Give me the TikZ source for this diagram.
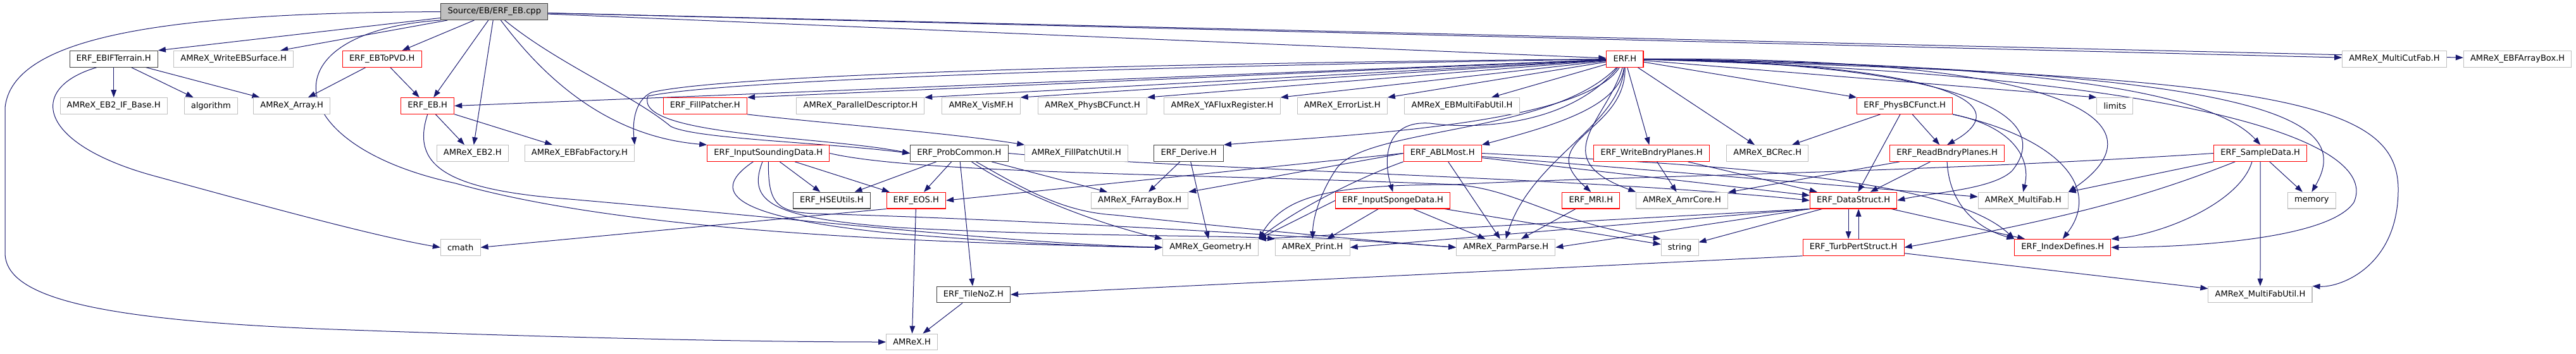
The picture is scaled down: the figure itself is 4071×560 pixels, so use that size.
\documentclass[tikz,border=0pt]{standalone}
\usepackage{fontspec}
\setmainfont{DejaVu Sans}
\usetikzlibrary{arrows.meta, backgrounds}
\definecolor{edgeblue}{HTML}{191970}
\definecolor{extgray}{HTML}{BFBFBF}
\definecolor{docgray}{HTML}{404040}
\definecolor{truncred}{HTML}{FF0000}

\begin{document}
\begin{tikzpicture}[
  x=0.75pt, y=-0.75pt,
  font=\fontsize{9.8}{11}\selectfont,
  % Node styles
  hdr/.style   = {rectangle, draw, line width=0.8pt, fill=white,
                  minimum height=19.3pt, inner xsep=8pt, inner ysep=1pt},
  src/.style   = {hdr, draw=docgray, fill=extgray},
  doc/.style   = {hdr, draw=docgray},
  trunc/.style = {hdr, draw=truncred},
  ext/.style   = {hdr, draw=extgray},
  % Arrow style
  inc/.style   = {-{Triangle[length=9pt,width=6.5pt]}, draw=edgeblue,
                  line width=0.75pt}
]

% =========================== ROOT ===========================
\node[src]   (root)     at (781.3,18.6)   {Source/EB/ERF\_EB.cpp};

% =========================== RANK 1 ===========================
\node[doc]   (ebif)     at (179.7,93.2)   {ERF\_EBIFTerrain.H};
\node[ext]   (wsurf)    at (369.2,93.2)   {AMReX\_WriteEBSurface.H};
\node[trunc] (topvd)    at (603.8,93.2)   {ERF\_EBToPVD.H};
\node[trunc] (erfh)     at (2567.9,93.2)  {ERF.H};
\node[ext]   (mcut)     at (3783.9,93.2)  {AMReX\_MultiCutFab.H};
\node[ext]   (ebfab)    at (3978.6,93.2)  {AMReX\_EBFArrayBox.H};

% =========================== RANK 2 ===========================
\node[ext]   (ifbase)   at (179.7,167.5)  {AMReX\_EB2\_IF\_Base.H};
\node[ext]   (algo)     at (333.3,167.5)  {algorithm};
\node[ext]   (arr)      at (461.2,167.5)  {AMReX\_Array.H};
\node[trunc] (ebh)      at (675.7,167.5)  {ERF\_EB.H};
\node[trunc] (fpatcher) at (1114.3,167.5) {ERF\_FillPatcher.H};
\node[ext]   (pdesc)    at (1359.8,167.5) {AMReX\_ParallelDescriptor.H};
\node[ext]   (vismf)    at (1550.5,167.5) {AMReX\_VisMF.H};
\node[ext]   (physbc)   at (1726.6,167.5) {AMReX\_PhysBCFunct.H};
\node[ext]   (yaflux)   at (1931.5,167.5) {AMReX\_YAFluxRegister.H};
\node[ext]   (errlist)  at (2121.2,167.5) {AMReX\_ErrorList.H};
\node[ext]   (ebmfu)    at (2310.5,167.5) {AMReX\_EBMultiFabUtil.H};
\node[trunc] (erfphys)  at (3010.2,167.5) {ERF\_PhysBCFunct.H};
\node[ext]   (limits)   at (3342.3,167.5) {limits};

% =========================== RANK 3 ===========================
\node[ext]   (eb2)      at (746.7,242.5)  {AMReX\_EB2.H};
\node[ext]   (ebff)     at (915.9,242.5)  {AMReX\_EBFabFactory.H};
\node[trunc] (sound)    at (1214.3,242.5) {ERF\_InputSoundingData.H};
\node[doc]   (prob)     at (1515.9,242.5) {ERF\_ProbCommon.H};
\node[ext]   (fputil)   at (1701.2,242.5) {AMReX\_FillPatchUtil.H};
\node[doc]   (derive)   at (1878.6,242.5) {ERF\_Derive.H};
\node[trunc] (abl)      at (2279.7,242.5) {ERF\_ABLMost.H};
\node[trunc] (wbp)      at (2610.1,242.5) {ERF\_WriteBndryPlanes.H};
\node[ext]   (bcrec)    at (2793.2,242.5) {AMReX\_BCRec.H};
\node[trunc] (rbp)      at (3077.1,242.5) {ERF\_ReadBndryPlanes.H};
\node[trunc] (sample)   at (3572.2,242.5) {ERF\_SampleData.H};

% =========================== RANK 4 ===========================
\node[doc]   (hse)      at (1314.3,317.1) {ERF\_HSEUtils.H};
\node[trunc] (eos)      at (1447.8,317.1) {ERF\_EOS.H};
\node[ext]   (farr)     at (1801.1,317.1) {AMReX\_FArrayBox.H};
\node[trunc] (sponge)   at (2201.2,317.1) {ERF\_InputSpongeData.H};
\node[trunc] (mri)      at (2514.3,317.1) {ERF\_MRI.H};
\node[ext]   (amrcore)  at (2658.2,317.1) {AMReX\_AmrCore.H};
\node[trunc] (dstruct)  at (2929.1,317.1) {ERF\_DataStruct.H};
\node[ext]   (mfab)     at (3197.2,317.1) {AMReX\_MultiFab.H};
\node[ext]   (memory)   at (3653.3,317.1) {memory};

% =========================== RANK 5-7 ===========================
\node[ext]   (cmath)    at (727.7,391.4)  {cmath};
\node[ext]   (geom)     at (1913.0,391.4) {AMReX\_Geometry.H};
\node[ext]   (print)    at (2074.3,391.4) {AMReX\_Print.H};
\node[ext]   (parm)     at (2379.7,391.4) {AMReX\_ParmParse.H};
\node[ext]   (string)   at (2654.6,391.4) {string};
\node[trunc] (turb)     at (2929.1,391.4) {ERF\_TurbPertStruct.H};
\node[trunc] (idx)      at (3259.8,391.4) {ERF\_IndexDefines.H};
\node[doc]   (tile)     at (1538.4,466.0) {ERF\_TileNoZ.H};
\node[ext]   (mfu)      at (3571.9,466.0) {AMReX\_MultiFabUtil.H};
\node[ext]   (amrex)    at (1441.1,541.0) {AMReX.H};

\begin{scope}[on background layer]
\fill[white] (0,0) rectangle (4071,560);

% =========================== FROM THE SOURCE FILE ===========================
\draw[inc] (root) -- (ebif.north east);
\draw[inc] (root) -- (wsurf);
\draw[inc] (root) -- (topvd);
\draw[inc] (root) -- (ebh);
\draw[inc] (root) -- (eb2);
\draw[inc] (root) -- (erfh);
\draw[inc] (root) -- (mcut);
\draw[inc] (root) -- (ebfab);
\draw[inc] (root.west) .. controls (250,20) and (20,60) .. (8,170) -- (8,400)
  .. controls (8,470) and (150,505) .. (500,520)
  .. controls (900,535) and (1200,541) .. (amrex.west);
\draw[inc] (root.south west) .. controls (420,50) and (440,230) .. (720,290)
  .. controls (1000,370) and (1500,385) .. (geom.west);
\draw[inc] (root) .. controls (850,110) and (950,215) .. (sound.north west);
\draw[inc] (root) .. controls (880,100) and (1000,150) .. (1060,200)
  .. controls (1100,220) and (1300,225) .. (prob.west);

% =========================== EB HEADERS ===========================
\draw[inc] (ebif) -- (ifbase);
\draw[inc] (ebif) -- (algo);
\draw[inc] (ebif) -- (arr);
\draw[inc] ([xshift=-20pt]ebif.south) .. controls (40,140) and (60,230) .. (250,280)
  .. controls (450,335) and (600,375) .. (cmath.west);
\draw[inc] (topvd) -- (arr);
\draw[inc] (topvd) -- (ebh);
\draw[inc] (ebh) -- (eb2);
\draw[inc] (ebh) -- (ebff);
\draw[inc] (ebh.south) .. controls (650,260) and (700,300) .. (900,315)
  .. controls (1300,350) and (1600,385) .. (geom.west);

% =========================== ERF.H FAN ===========================
\draw[inc] (erfh) -- (ebh.east);
\draw[inc] (erfh) -- (fpatcher.north east);
\draw[inc] (erfh) -- (pdesc.north east);
\draw[inc] (erfh) -- (vismf.north east);
\draw[inc] (erfh) -- (physbc.north east);
\draw[inc] (erfh) -- (yaflux.north east);
\draw[inc] (erfh) -- (errlist.north east);
\draw[inc] (erfh) -- (ebmfu);
\draw[inc] (erfh) -- (erfphys.north west);
\draw[inc] (erfh) -- (limits.north west);
\draw[inc] (erfh) -- (wbp);
\draw[inc] (erfh) -- (bcrec);
\draw[inc] (erfh) .. controls (1800,100) and (1150,118) .. (1030,146)
  .. controls (1000,160) and (1000,200) .. (ebff.north east);
\draw[inc] (erfh) .. controls (1800,105) and (1150,126) .. (1024,152)
  .. controls (1000,215) and (1300,215) .. (prob.west);
\draw[inc] (erfh) .. controls (2500,200) and (2100,215) .. (derive.north east);
\draw[inc] (erfh) .. controls (2560,170) and (2450,200) .. (abl.north east);
\draw[inc] (erfh) .. controls (2480,200) and (2330,205) .. (2260,195)
  .. controls (2190,190) and (2185,250) .. (sponge.north);
\draw[inc] (erfh) .. controls (2450,215) and (2150,200) .. (2110,270)
  .. controls (2090,300) and (2075,340) .. (print.north);
\draw[inc] (erfh) .. controls (2560,200) and (2420,250) .. (parm.north);
\draw[inc] (erfh) .. controls (2570,210) and (2420,220) .. (mri.north);
\draw[inc] (erfh) .. controls (2540,190) and (2440,250) .. (amrcore.north west);
\draw[inc] (erfh) .. controls (3050,100) and (3200,160) .. (rbp.north);
\draw[inc] (erfh) .. controls (3050,100) and (3260,170) .. (3180,270)
  .. controls (3150,300) and (3050,305) .. (dstruct.east);
\draw[inc] (erfh) .. controls (3300,90) and (3420,200) .. (mfab.north east);
\draw[inc] (erfh) .. controls (3250,100) and (3500,150) .. (sample.north);
\draw[inc] (erfh) .. controls (3600,110) and (3720,190) .. (memory.north);
\draw[inc] (erfh) .. controls (3500,120) and (3760,230) .. (3720,320)
  .. controls (3680,380) and (3450,391) .. (idx.east);
\draw[inc] (erfh) .. controls (3600,120) and (3790,160) .. (3790,300)
  .. controls (3790,420) and (3700,455) .. (mfu.north east);

% =========================== PROBLEM SETUP ===========================
\draw[inc] (fpatcher.south east) .. controls (1300,195) and (1500,210) .. (fputil.north west);
\draw[inc] (sound) -- (hse);
\draw[inc] (sound) -- (eos);
\draw[inc] ([xshift=-18pt]sound.south) .. controls (1110,310) and (1180,345) .. (1400,368)
  .. controls (1600,385) and (1750,391) .. (geom.west);
\draw[inc] ([xshift=-7pt]sound.south) .. controls (1180,320) and (1220,345) .. (1420,360)
  .. controls (1700,375) and (1950,372) .. (print.north west);
\draw[inc] (sound.south) .. controls (1214,320) and (1225,336) .. (1290,338)
  .. controls (1700,350) and (2150,380) .. (parm.west);
\draw[inc] (sound.east) .. controls (1450,275) and (1900,275) .. (2300,292)
  .. controls (2400,300) and (2450,350) .. (string.north west);
\draw[inc] (prob) -- (hse);
\draw[inc] (prob) -- (eos);
\draw[inc] (prob) -- (tile);
\draw[inc] (prob) -- (farr);
\draw[inc] (prob) .. controls (1600,300) and (1720,350) .. (geom.north west);
\draw[inc] ([xshift=20pt]prob.south) .. controls (1620,300) and (1680,335) .. (1760,340)
  .. controls (1900,355) and (2150,380) .. (parm.west);
\draw[inc] (prob.east) .. controls (1900,270) and (2500,280) .. (dstruct.west);
\draw[inc] (derive) -- (farr);
\draw[inc] (derive) -- (geom);
\draw[inc] (eos) -- (amrex);
\draw[inc] (eos.south west) -- (cmath.east);
\draw[inc] (tile) -- (amrex);

% =========================== PHYSICS HEADERS ===========================
\draw[inc] (abl.west) -- (eos.east);
\draw[inc] (abl.west) -- (farr.north east);
\draw[inc] (abl.south west) .. controls (2150,280) and (2050,330) .. (geom.north east);
\draw[inc] (abl) -- (parm);
\draw[inc] (abl) -- (dstruct);
\draw[inc] (abl) -- (mfab);
\draw[inc] (abl.east) .. controls (2700,260) and (3080,280) .. (idx.north west);
\draw[inc] (sponge.west) -- (geom.north east);
\draw[inc] (sponge) -- (print);
\draw[inc] (sponge) -- (parm);
\draw[inc] (sponge) -- (string);
\draw[inc] (mri) -- (parm);
\draw[inc] (wbp) -- (amrcore);
\draw[inc] (wbp) -- (dstruct);
\draw[inc] (erfphys) -- (bcrec);
\draw[inc] (erfphys) -- (dstruct);
\draw[inc] (erfphys) -- (rbp);
\draw[inc] (erfphys.south east) .. controls (3180,200) and (3210,250) .. (mfab.north);
\draw[inc] (erfphys.south east) .. controls (3260,220) and (3320,300) .. (idx.north);
\draw[inc] (rbp) -- (amrcore);
\draw[inc] (rbp) -- (dstruct);
\draw[inc] (rbp.south) .. controls (3080,320) and (3120,360) .. (idx.north west);

% =========================== DATA STRUCTURES ===========================
\draw[inc] ([xshift=-6pt]dstruct.south) -- ([xshift=-6pt]turb.north);
\draw[inc] ([xshift=6pt]turb.north) -- ([xshift=6pt]dstruct.south);
\draw[inc] (dstruct) -- (string);
\draw[inc] (dstruct) -- (idx);
\draw[inc] (dstruct.south west) -- (geom.north east);
\draw[inc] (dstruct.south west) -- (print.east);
\draw[inc] (dstruct.south west) -- (parm.east);
\draw[inc] (turb.south west) -- (tile.east);
\draw[inc] (turb) -- (mfu);
\draw[inc] (sample) -- (memory);
\draw[inc] (sample) -- (mfu);
\draw[inc] ([xshift=-10pt]sample.south) .. controls (3540,320) and (3420,370) .. (idx.north east);
\draw[inc] (sample.south west) -- (mfab.north east);
\draw[inc] ([xshift=-30pt]sample.south) .. controls (3420,300) and (3300,340) .. (turb.east);
\draw[inc] (sample.west) .. controls (3000,275) and (2500,280) .. (2300,292)
  .. controls (2100,292) and (2030,310) .. (geom.north east);
\end{scope}

\useasboundingbox (0,0) rectangle (4071,560);
\end{tikzpicture}
\end{document}
